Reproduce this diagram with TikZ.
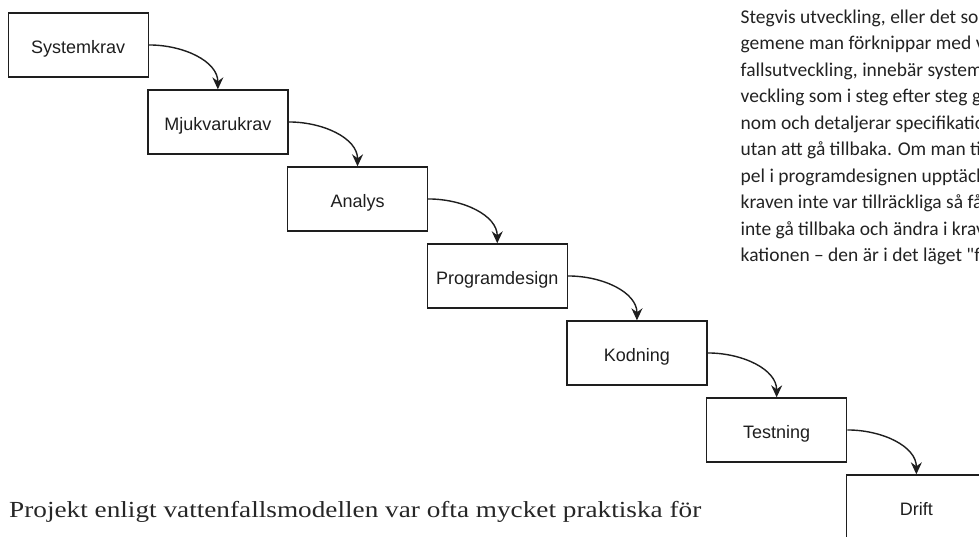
\documentclass[tikz,border=0pt]{standalone}
\usepackage{fontspec}
\usepackage{graphicx}
\setmainfont{Liberation Serif}
\newfontfamily\boxfont{Liberation Sans}
\newfontfamily\notefont{Carlito}
\usetikzlibrary{arrows.meta}

\definecolor{ink}{HTML}{1E1E1E}
\definecolor{notegray}{HTML}{222222}
\definecolor{bodygray}{HTML}{262626}

\begin{document}
\begin{tikzpicture}[x=1pt, y=-1pt,
  stage/.style={draw=ink, line width=1.3pt, minimum width=140pt, minimum height=64pt,
    inner sep=0pt, anchor=north west, text=ink,
    font=\boxfont\fontsize{18}{18}\selectfont, text height=18pt, text depth=0pt},
  flow/.style={draw=ink, line width=1.4pt,
    -{Stealth[length=12pt, width=11pt, inset=4pt]}},
  noteline/.style={anchor=base west, inner sep=0pt, text=notegray,
    font=\notefont\fontsize{19.5}{19.5}\selectfont},
]
\useasboundingbox (0,0) rectangle (979,536);
\clip (0,0) rectangle (979,536);

% waterfall stages, each one step right and down
\node[stage] (s1) at (7.5,12.3)    {Systemkrav};
\node[stage] (s2) at (147.2,89.3)  {Mjukvarukrav};
\node[stage] (s3) at (286.9,166.3) {Analys};
\node[stage] (s4) at (426.6,243.3) {Programdesign};
\node[stage] (s5) at (566.3,320.3) {Kodning};
\node[stage] (s6) at (706.0,397.3) {Testning};
\node[stage] (s7) at (845.7,474.3) {Drift};

% curved hand-overs from each stage to the next
\foreach \a/\b in {s1/s2, s2/s3, s3/s4, s4/s5, s5/s6, s6/s7}
  \draw[flow] (\a.east) .. controls +(35,0) and +(0,-28) .. (\b.north);

% side column text, running past the right edge
\node[noteline] (n1)  at (740.5,23.0)  {Stegvis utveckling, eller det som};
\node[noteline] (n2)  at (740.5,49.5)  {gemene man förknippar med vatten-};
\node[noteline] (n3)  at (740.5,76.0)  {fallsutveckling, innebär systemut-};
\node[noteline] (n4)  at (740.5,102.5) {veckling som i steg efter steg går};
\node[noteline] (n5)  at (740.5,129.0) {nom och detaljerar specifikationen};
\node[noteline] (n6)  at (740.5,155.5) {utan att gå tillbaka. Om man till exem-};
\node[noteline] (n7)  at (740.5,182.0) {pel i programdesignen upptäcker att};
\node[noteline] (n8)  at (740.5,208.5) {kraven inte var tillräckliga så får man};
\node[noteline] (n9)  at (740.5,235.0) {inte gå tillbaka och ändra i kravspecifi-};
\node[noteline] (n10) at (740.5,261.5) {kationen – den är i det läget "fryst".};

% body text line
\node[anchor=base west, inner sep=0pt, text=bodygray] (lead) at (9,517)
  {\resizebox{692pt}{\height}{\fontsize{23}{23}\selectfont Projekt enligt vattenfallsmodellen var ofta mycket praktiska för}};
\end{tikzpicture}
\end{document}
